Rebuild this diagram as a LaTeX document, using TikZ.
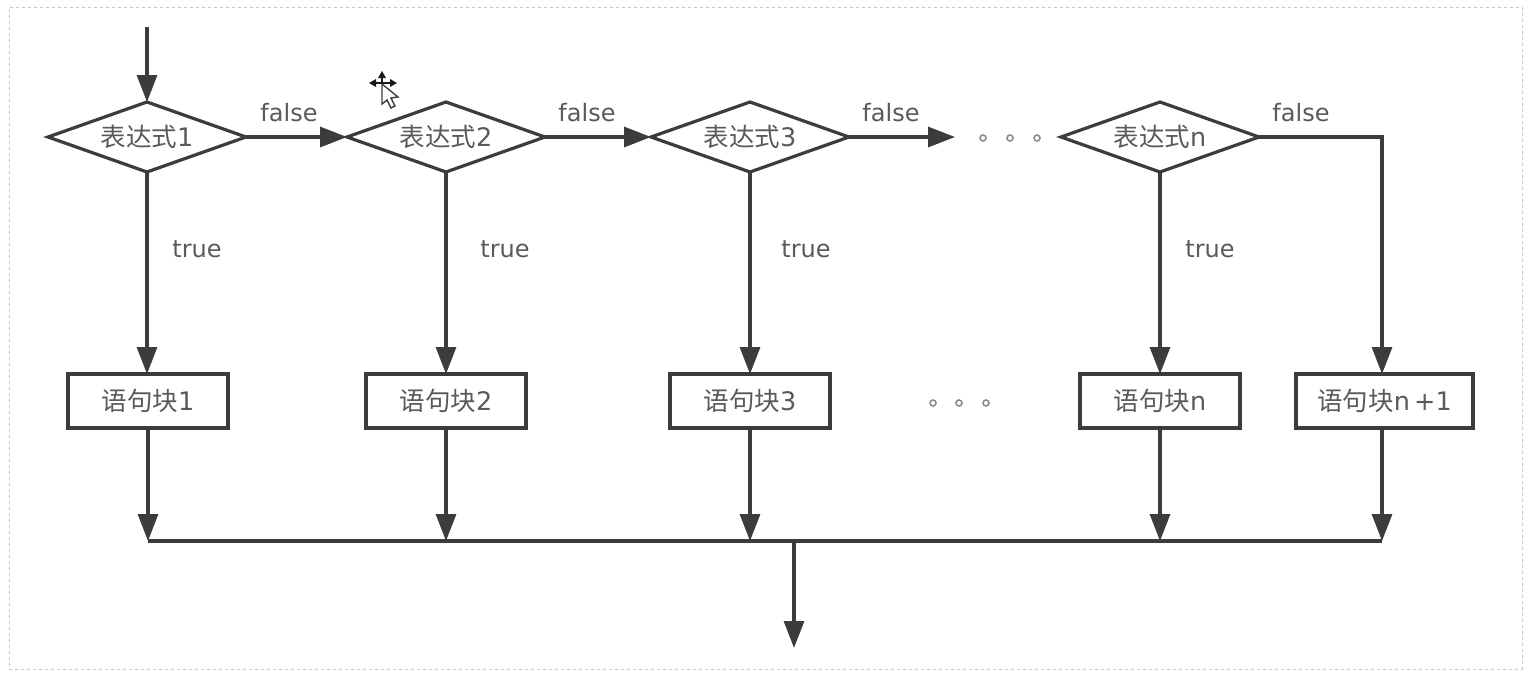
\documentclass[tikz,border=0pt]{standalone}
\usepackage{fontspec}
\setmainfont{DejaVu Sans}
\newfontfamily\cjk{Noto Sans CJK SC}
\usetikzlibrary{positioning, calc, arrows.meta, shapes.geometric}

\begin{document}
\begin{tikzpicture}[
    x=1pt, y=-1pt,
    >={Triangle[length=27pt,width=20pt]},
    every edge/.style={draw=linegray, fill=linegray, line width=3.2pt},
    cond/.style={diamond, draw=linegray, line width=3.2pt, aspect=2.83, inner sep=0pt, outer sep=0pt, minimum width=198pt, minimum height=70pt, text=textgray, font=\fontsize{25.5}{28}\selectfont},
    stmt/.style={draw=linegray, line width=3.2pt, inner sep=0pt, outer sep=0pt, minimum width=160pt, minimum height=54pt, text=textgray, font=\fontsize{25.5}{28}\selectfont},
    label/.style={text=textgray, inner sep=0pt, font=\fontsize{24}{28}\selectfont},
    dot/.style={circle, draw=black!45, line width=1.6pt, fill=white, inner sep=0pt, minimum size=6pt}]

\definecolor{linegray}{HTML}{3C3C3C}
\definecolor{textgray}{HTML}{5A5A5A}

\useasboundingbox (0,0) rectangle (1526,672);
\fill[white] (0,0) rectangle (1526,672);
\node[draw=black!22, dashed, line width=0.8pt, inner sep=0pt, minimum width=1513pt, minimum height=662pt] (frame) at (765.5,338) {};

\coordinate (start) at (147,27);
\node at (147,137) [cond] (cond1) {{\cjk 表达式}1};
\node at (446,137) [cond] (cond2) {{\cjk 表达式}2};
\node at (750,137) [cond] (cond3) {{\cjk 表达式}3};
\node at (1160,137) [cond] (condn) {{\cjk 表达式}n};

\node at (148,401) [stmt] (stmt1) {{\cjk 语句块}1};
\node at (446,401) [stmt] (stmt2) {{\cjk 语句块}2};
\node at (750,401) [stmt] (stmt3) {{\cjk 语句块}3};
\node at (1160,401) [stmt] (stmtn) {{\cjk 语句块}n};
\node at (1384.5,401) [stmt, minimum width=177pt] (stmtlast) {{\cjk 语句块}n\,+1};

\coordinate (gap) at (955,137);
\coordinate (turn) at (1382,137);
\coordinate (busleft) at (148,541);
\coordinate (busright) at (1382,541);
\coordinate (busout) at (794,541);
\coordinate (end) at (794,648);

% false branch
\path (start) edge [->] (cond1.north);
\path (cond1.east) edge [->] (cond2.west);
\path (cond2.east) edge [->] (cond3.west);
\path (cond3.east) edge [->] (gap);
\draw[draw=linegray, fill=none, line width=3.2pt, ->, >={Triangle[length=27pt,width=20pt,fill=linegray]}] (condn.east) -- (turn) -- (turn |- stmtlast.north);

% true branch
\path (cond1.south) edge [->] (cond1 |- stmt1.north);
\path (cond2.south) edge [->] (stmt2.north);
\path (cond3.south) edge [->] (stmt3.north);
\path (condn.south) edge [->] (stmtn.north);

% bus
\path (stmt1.south) edge [->] (busleft);
\path (stmt2.south) edge [->] (stmt2 |- busleft);
\path (stmt3.south) edge [->] (stmt3 |- busleft);
\path (stmtn.south) edge [->] (stmtn |- busleft);
\path (turn |- stmtlast.south) edge [->] (busright);
\path (busleft) edge (busright);
\path (busout) edge [->] (end);

\node at (289,113) [label] (false1) {false};
\node at (587,113) [label] (false2) {false};
\node at (891,113) [label] (false3) {false};
\node at (1301,113) [label] (falsen) {false};
\node at (197,249) [label] (true1) {true};
\node at (505,249) [label] (true2) {true};
\node at (806,249) [label] (true3) {true};
\node at (1210,249) [label] (truen) {true};

\node at (983,138) [dot] (dotsa) {};
\node at (1010,138) [dot] (dotsb) {};
\node at (1037,138) [dot] (dotsc) {};
\node at (933,403) [dot] (dotsd) {};
\node at (959,403) [dot] (dotse) {};
\node at (986,403) [dot] (dotsf) {};

% mouse cursor
\draw[black!75, line width=1.4pt, fill=white] (382,84) -- (382,104) -- (387,100) -- (391,108) -- (395,106) -- (391,98) -- (398,97) -- cycle;
\fill[black!90] (382,71) -- (386,78) -- (378,78) -- cycle (369,83) -- (376,79) -- (376,87) -- cycle (397,83) -- (390,79) -- (390,87) -- cycle;
\draw[black!90, line width=1.4pt] (375,83) -- (391,83) (382,76) -- (382,83);

\end{tikzpicture}
\end{document}
